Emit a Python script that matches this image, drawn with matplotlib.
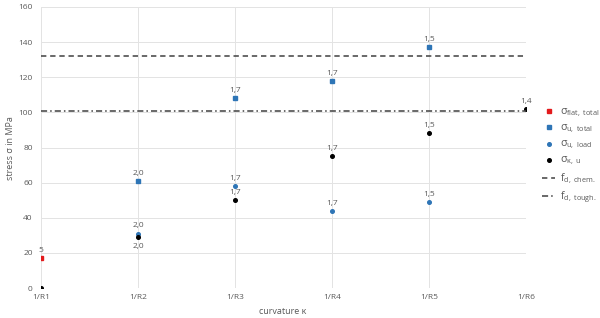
import numpy as np
import matplotlib
matplotlib.use("Agg")
import matplotlib.pyplot as plt

plt.rcParams['font.family'] = ['Open Sans', 'DejaVu Sans']
plt.rcParams['mathtext.fontset'] = 'custom'
plt.rcParams['mathtext.rm'] = 'Open Sans'
plt.rcParams['mathtext.it'] = 'Open Sans'

categories = ['1/R1', '1/R2', '1/R3', '1/R4', '1/R5', '1/R6']
flat_total = [17, np.nan, np.nan, np.nan, np.nan, np.nan]
u_total = [np.nan, 61, 108, 118, 137, np.nan]
u_load = [np.nan, 31, 58, 44, 49, np.nan]
k_u = [0, 29, 50, 75, 88, 102]
f_chem = 132
f_tough = 101

flat_labels = ['5', '', '', '', '', '']
u_total_labels = ['', '2,0', '1,7', '1,7', '1,5', '']
u_load_labels = ['', '2,0', '1,7', '1,7', '1,5', '']
k_u_labels = ['', '2,0', '1,7', '1,7', '1,5', '1,4']
k_u_below = [False, True, False, False, False, False]

fig = plt.figure(figsize=(6, 3.18), dpi=100)
ax = fig.add_axes([0.0683, 0.0943, 0.8084, 0.8837])

x = np.arange(len(categories))
grid_c = '#e3e3e3'
text_c = '#595959'

ax.set_xlim(0, len(categories) - 1)
ax.set_ylim(0, 160)
ax.set_yticks(np.arange(0, 161, 20))
ax.set_xticks(x)
ax.set_xticklabels(categories)
ax.grid(True, color=grid_c, linewidth=0.7)
ax.set_axisbelow(True)
for s in ax.spines.values():
    s.set_visible(False)
ax.tick_params(axis='y', length=0, labelsize=6, colors=text_c, pad=6)
ax.tick_params(axis='x', length=0, labelsize=6, colors=text_c, pad=4)

red = '#e31a1c'
blue = '#2e75b6'

ax.plot(x, flat_total, 's', color=red, markersize=3, linestyle='none',
        label=r'$\sigma_{\mathrm{flat,\ total}}$')
ax.plot(x, u_total, 's', color=blue, markersize=2.6, linestyle='none',
        label=r'$\sigma_{\mathrm{u,\ total}}$')
ax.plot(x, u_load, 'o', color=blue, markersize=2.6, linestyle='none',
        label=r'$\sigma_{\mathrm{u,\ load}}$')
ax.plot(x, k_u, 'o', color='black', markersize=2.6, linestyle='none',
        label=r'$\sigma_{\mathrm{\kappa,\ u}}$')
ax.axhline(f_chem, color='#404040', linestyle=(0, (3.5, 2.5)), linewidth=1.1,
           label=r'$\mathrm{f}_{\mathrm{d,\ chem.}}$')
ax.axhline(f_tough, color='#404040', linestyle=(0, (4, 2, 1, 2)), linewidth=1.1,
           label=r'$\mathrm{f}_{\mathrm{d,\ tough.}}$')

def annotate(vals, labels, below=None):
    for i, (v, t) in enumerate(zip(vals, labels)):
        if t and not np.isnan(v):
            b = below[i] if below else False
            ax.annotate(t, (x[i], v), xytext=(0, -4 if b else 3),
                        textcoords='offset points', ha='center',
                        va='top' if b else 'bottom', fontsize=6, color=text_c)

annotate(flat_total, flat_labels)
annotate(u_total, u_total_labels)
annotate(u_load, u_load_labels)
annotate(k_u, k_u_labels, k_u_below)

fig.text(283 / 600, 1 - 311 / 318, 'curvature κ', fontsize=6.5, color=text_c,
         ha='center', va='center')
fig.text(11 / 600, 1 - 148 / 318, 'stress σ in MPa', fontsize=6.5, color=text_c,
         ha='center', va='center', rotation=90)

leg = ax.legend(loc='center left', bbox_to_anchor=(1.025, 0.47), frameon=False,
                fontsize=7.5, handlelength=1.2, handletextpad=0.5, labelspacing=0.3,
                labelcolor=text_c, borderaxespad=0)

fig.savefig('out.png', dpi=100)
